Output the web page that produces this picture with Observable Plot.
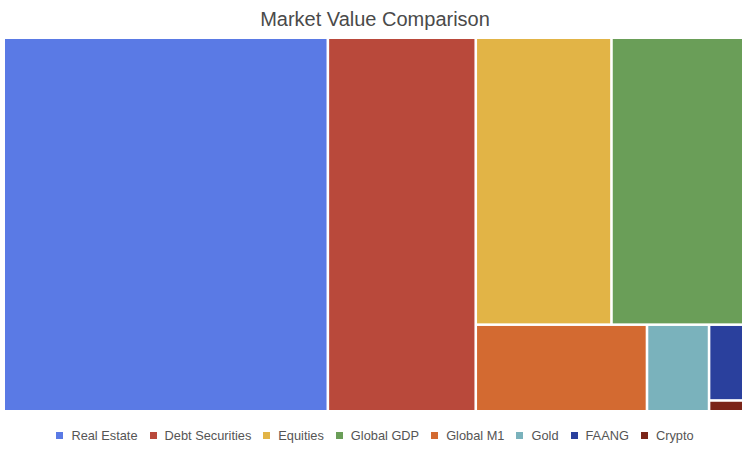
<!DOCTYPE html>
<html>
<head>
<meta charset="utf-8">
<script src="https://cdn.jsdelivr.net/npm/d3@7"></script>
<script src="https://cdn.jsdelivr.net/npm/@observablehq/plot@0.6"></script>
<style>
  html, body { margin: 0; padding: 0; background: #fff; }
  #wrap { width: 750px; }
  #title {
    height: 30px; padding-top: 4px; line-height: 30px; text-align: center;
    font-family: "Liberation Sans", Arial, sans-serif; font-size: 20px; color: #4a4a4a;
  }
  #chart svg { display: block; }
  #legend { width: 750px; display: flex; justify-content: center; }
  .lg-swatches { margin: 0 !important; }
  .lg-swatch:last-child { margin-right: 0 !important; }
  .lg-swatch > svg { margin-right: 8px !important; }
  .lg-swatch { margin-right: 12px !important; }
</style>
</head>
<body>
<div id="wrap">
  <div id="title">Market Value Comparison</div>
  <div id="chart"></div>
  <div id="legend"></div>
</div>
<script>
const names = ["Real Estate", "Debt Securities", "Equities", "Global GDP", "Global M1", "Gold", "FAANG", "Crypto"];
const values = [326.5, 149, 105, 102, 40, 14.5, 7, 1];
const colors = ["#5a7ae5", "#b9493b", "#e2b446", "#6a9e58", "#d36a31", "#7ab2bc", "#2a409d", "#7b2519"];

const leaf = i => ({name: names[i], value: values[i]});
const tree = {
  children: [
    leaf(0),
    leaf(1),
    {children: [
      {children: [leaf(2), leaf(3)]},
      {children: [leaf(4), leaf(5), {children: [leaf(6), leaf(7)]}]}
    ]}
  ]
};

const W = 737, H = 371;
const root = d3.treemap()
  .size([W, H])
  .tile(d3.treemapSliceDice)
  .paddingInner(2.6)
  (d3.hierarchy(tree).sum(d => d.value || 0));
const leaves = root.leaves();

const chart = Plot.plot({
  width: 750,
  height: 388,
  marginLeft: 5,
  marginRight: 8,
  marginTop: 5,
  marginBottom: 12,
  x: {domain: [0, W], axis: null},
  y: {domain: [0, H], reverse: true, axis: null},
  color: {domain: names, range: colors},
  marks: [
    Plot.rect(leaves, {
      x1: d => d.x0, x2: d => d.x1,
      y1: d => d.y0, y2: d => d.y1,
      fill: d => d.data.name
    })
  ]
});
document.getElementById("chart").appendChild(chart);

const legend = Plot.legend({
  color: {domain: names, range: colors},
  legend: "swatches",
  swatchSize: 7,
  className: "lg",
  style: {
    fontFamily: "'Liberation Sans', Arial, sans-serif",
    fontSize: "12.8px",
    color: "#555",
    minHeight: "27px",
    justifyContent: "center",
    margin: "0"
  }
});
document.getElementById("legend").appendChild(legend);
</script>
</body>
</html>
